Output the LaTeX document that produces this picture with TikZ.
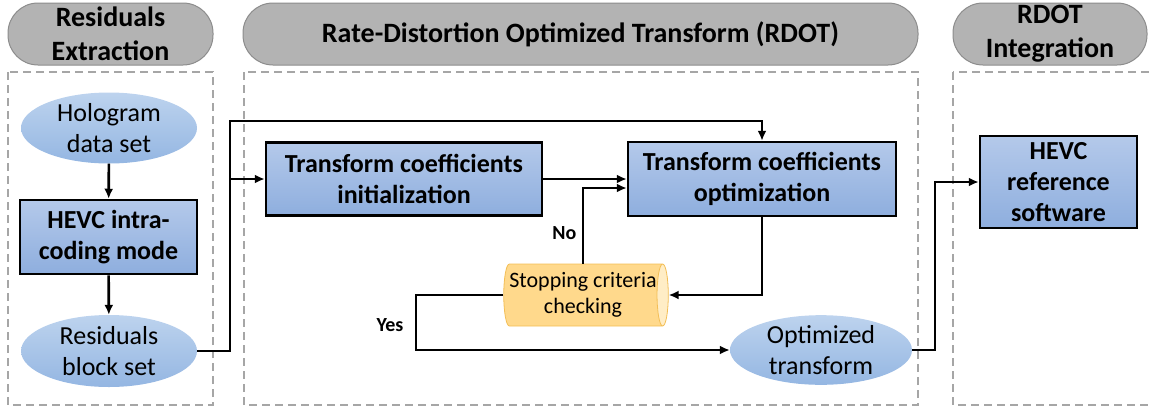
\documentclass[tikz,border=0pt]{standalone}
\usepackage{fontspec}
\setmainfont{Carlito}
\usetikzlibrary{shapes.geometric,arrows.meta}

\definecolor{pillfill}{HTML}{B3B3B3}
\definecolor{pilledge}{HTML}{8C8C8C}
\definecolor{panelgray}{HTML}{A6A6A6}
\definecolor{boxtop}{HTML}{B4C9EA}
\definecolor{boxbot}{HTML}{8EAEDE}
\definecolor{elltop}{HTML}{BDD3EE}
\definecolor{ellbot}{HTML}{94B6E2}
\definecolor{cylbody}{HTML}{FFD98C}
\definecolor{cylend}{HTML}{FFEDC6}
\definecolor{cyledge}{HTML}{F3BE55}

\begin{document}
\begin{tikzpicture}[x=1pt,y=-1pt,
  pill/.style={draw=pilledge, fill=pillfill, line width=1pt, rounded corners=30pt,
    minimum height=62pt, inner sep=0pt, align=center,
    font=\fontsize{28}{34}\selectfont\bfseries},
  panel/.style={draw=panelgray, line width=2pt, dash pattern=on 8pt off 5pt},
  procbox/.style={draw=black, line width=2.5pt, top color=boxtop, bottom color=boxbot,
    inner sep=0pt, align=center, font=\fontsize{26}{31}\selectfont\bfseries},
  dataell/.style={ellipse, top color=elltop, bottom color=ellbot, inner sep=0pt,
    align=center, font=\fontsize{26}{31}\selectfont},
  checkcyl/.style={cylinder, shape border rotate=0, aspect=0.25, draw=cyledge, line width=0.8pt,
    cylinder uses custom fill, cylinder body fill=cylbody, cylinder end fill=cylend,
    inner sep=0pt, align=center, font=\fontsize{22}{26}\selectfont},
  link/.style={line width=2.6pt, -{Latex[length=10pt,width=9pt]}},
  tag/.style={font=\fontsize{20}{24}\selectfont\bfseries}
]
\useasboundingbox (0,0) rectangle (1150,410);
%\draw[gray!35] (0,0) grid[step=50] (1150,410);

% headers
\node[pill, minimum width=205pt] (hdrres) at (110.5,34) {Residuals\\Extraction};
\node[pill, minimum width=675pt] (hdrrdot) at (580.5,34) {Rate-Distortion Optimized Transform (RDOT)};
\node[pill, minimum width=194pt] (hdrint) at (1050,34) {RDOT\\Integration};

% dashed panels
\draw[panel] (8,72) rectangle (213,405);
\draw[panel] (244,72) rectangle (918,405);
\draw[panel] (953,72) rectangle (1160,405);

% residuals extraction
\node[dataell, minimum width=176pt, minimum height=71pt] (holo) at (109,128) {Hologram\\data set};
\node[procbox, minimum width=177pt, minimum height=74pt] (intra) at (108.5,237) {HEVC intra-\\coding mode};
\node[dataell, minimum width=176pt, minimum height=72pt] (resid) at (109,351) {Residuals\\block set};

% rdot
\node[procbox, minimum width=276pt, minimum height=73pt] (init) at (404,179) {Transform coefficients\\initialization};
\node[procbox, minimum width=268pt, minimum height=74pt] (opt) at (762,179) {Transform coefficients\\optimization};
\node[checkcyl, minimum height=164pt, minimum width=62pt] (stop) at (583,295) {Stopping criteria\\checking};
\node[dataell, minimum width=182pt, minimum height=64pt] (optr) at (821,350) {Optimized\\transform};

% integration
\node[procbox, minimum width=157pt, minimum height=92pt] (hm) at (1058.5,182) {HEVC\\reference\\software};

% connectors
\coordinate (split) at (230,179);
\draw[link] (holo) -- (intra);
\draw[link] (intra) -- (resid);
\draw[link] (resid.east) -| (230,121) -| (opt.north);
\draw[link] (split) -- (init.west);
\draw[link] (init.east) -- (opt.west |- init.east);
\draw[link] (opt.south) |- (stop.east);
\draw[link] (stop.north) |- (opt.west |- 0,188) node[tag, pos=0.2, left=2pt] {No};
\draw[link] (stop.west) -| (416,350) -- (optr.west);
\node[tag] (yes) at (390,325) {Yes};
\draw[link] (optr.east) -| (935,182) -- (hm.west);

\end{tikzpicture}
\end{document}
